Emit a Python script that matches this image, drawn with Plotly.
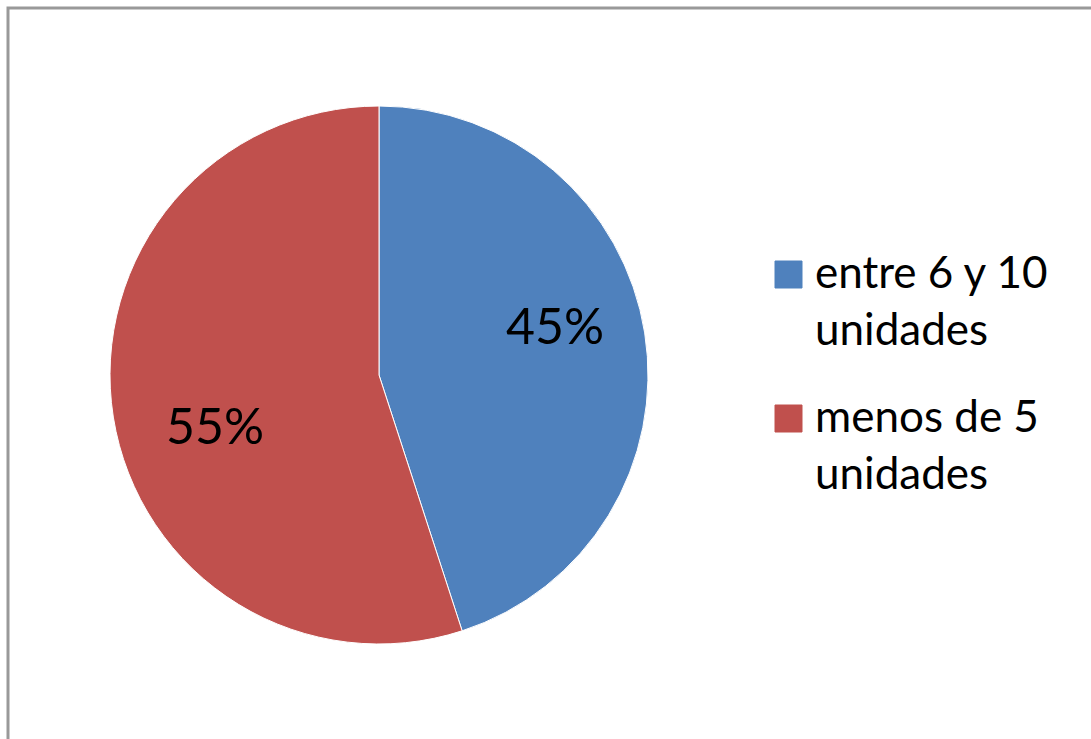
import plotly.graph_objects as go

labels = ["entre 6 y 10<br>unidades", "menos de 5<br>unidades"]
values = [45, 55]
colors = ["#4F81BD", "#C0504D"]

W, H = 1091, 739

def px(x):
    return x / W

def py(y):
    return 1 - y / H

fig = go.Figure()
fig.add_trace(go.Pie(
    labels=labels,
    values=values,
    sort=False,
    direction="clockwise",
    rotation=0,
    marker=dict(colors=colors, line=dict(color="white", width=1)),
    textinfo="none",
    domain=dict(x=[px(110), px(648)], y=[py(644), py(106)]),
    showlegend=False,
    hoverinfo="label+percent",
))

# data labels (layout positions of the label boxes, as in the original)
label_pos = [(555, 325), (215, 425)]
total = sum(values)
annotations = []
for v, (lx, ly) in zip(values, label_pos):
    annotations.append(dict(xref="paper", yref="paper", x=px(lx), y=py(ly),
                            xanchor="center", yanchor="middle",
                            text=f"{round(100 * v / total)}%", showarrow=False,
                            font=dict(family="Lato", size=50, color="black")))

# frame + custom legend
shapes = [dict(type="rect", xref="paper", yref="paper",
               x0=px(8), x1=1.02, y0=-0.02, y1=py(8),
               line=dict(color="#999999", width=3), fillcolor="rgba(0,0,0,0)")]
tops = [261, 405]
for i, (lab, col) in enumerate(zip(labels, colors)):
    t = tops[i]
    shapes.append(dict(type="rect", xref="paper", yref="paper",
                       x0=px(775), x1=px(802), y0=py(t + 27), y1=py(t),
                       line=dict(color=col, width=1), fillcolor=col))
    annotations.append(dict(xref="paper", yref="paper", x=px(813), y=py(t - 18),
                            xanchor="left", yanchor="top", align="left",
                            text=lab, showarrow=False,
                            font=dict(family="Lato", size=44, color="black")))

fig.update_layout(
    width=W, height=H,
    margin=dict(l=0, r=0, t=0, b=0),
    paper_bgcolor="white",
    plot_bgcolor="white",
    shapes=shapes,
    annotations=annotations,
)

fig.write_html("out.html")
